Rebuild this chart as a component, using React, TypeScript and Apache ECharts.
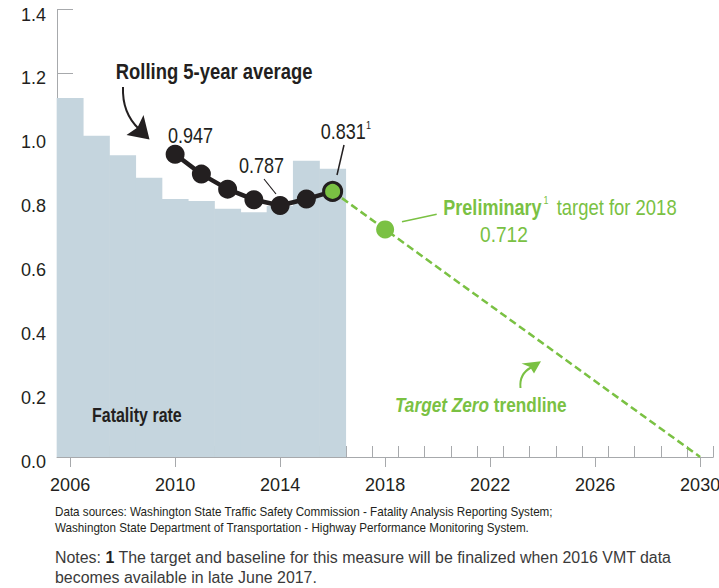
import React, { useEffect, useRef } from "react";
import * as echarts from "echarts";

// ---- data ----
const years = [2006, 2007, 2008, 2009, 2010, 2011, 2012, 2013, 2014, 2015, 2016];
const fatalityRate = [1.123, 1.005, 0.944, 0.874, 0.807, 0.801, 0.777, 0.766, 0.785, 0.927, 0.902];
const rollingYears = [2010, 2011, 2012, 2013, 2014, 2015, 2016];
const rollingAvg = [0.947, 0.885, 0.838, 0.805, 0.787, 0.807, 0.831];
const trendYears = [2016, 2018, 2030];
const trendValues = [0.831, 0.712, 0];
const xLabelYears = [2006, 2010, 2014, 2018, 2022, 2026, 2030];
const yearBoundaries = [
  2005.5, 2006.5, 2007.5, 2008.5, 2009.5, 2010.5, 2011.5, 2012.5, 2013.5, 2014.5, 2015.5, 2016.5,
  2017.5, 2018.5, 2019.5, 2020.5, 2021.5, 2022.5, 2023.5, 2024.5, 2025.5, 2026.5, 2027.5, 2028.5,
  2029.5, 2030.5,
];

const DARK = "#231f20";
const GREEN = "#7ac143";
const BAR = "#c5d5de";
const AXIS = "#a7a9ac";
const FONT = "'Liberation Sans', Arial, sans-serif";
const SQ = 0.82;

function txt(x: number, y: number, text: string, opts: any = {}) {
  const { size = 22, weight = "normal", fill = DARK, sx = SQ, style = "normal", rich } = opts;
  return {
    type: "text",
    x,
    y,
    scaleX: sx,
    z: 100,
    style: {
      text,
      fill,
      fontSize: size,
      fontFamily: FONT,
      fontWeight: weight,
      fontStyle: style,
      align: "left",
      verticalAlign: "middle",
      textAlign: "left",
      textVerticalAlign: "middle",
      rich,
    },
  };
}

export default function App() {
  const ref = useRef<HTMLDivElement>(null);
  useEffect(() => {
    if (!ref.current) return;
    const chart = echarts.init(ref.current, null, { renderer: "svg" });
    const barData = years.map((y, i) => [y, fatalityRate[i]]);
    const rollData: any[] = rollingYears.map((y, i) => [y, rollingAvg[i]]);
    const last = rollData.length - 1;
    rollData[last] = {
      value: rollData[last],
      itemStyle: { color: GREEN, borderColor: DARK, borderWidth: 3 },
      symbolSize: 18,
    };
    const trendData: any[] = trendYears.map((y, i) => [y, trendValues[i]]);
    trendData[1] = { value: trendData[1], symbol: "circle", symbolSize: 18, itemStyle: { color: GREEN } };

    const option: any = {
      animation: false,
      backgroundColor: "#ffffff",
      grid: { left: 57, right: 5.75, top: 9.5, bottom: 131, containLabel: false, outerBoundsMode: "none" },
      xAxis: [
        {
          type: "value",
          min: 2005.5,
          max: 2030.5,
          position: "bottom",
          axisLine: { show: true, lineStyle: { color: AXIS, width: 1 } },
          axisTick: { show: true, inside: true, length: 11, customValues: yearBoundaries, lineStyle: { color: AXIS } },
          axisLabel: { show: false },
          splitLine: { show: false },
        },
        {
          type: "value",
          min: 2005.5,
          max: 2030.5,
          position: "bottom",
          axisLine: { show: false },
          axisTick: { show: true, inside: false, length: 10, customValues: xLabelYears, lineStyle: { color: AXIS } },
          axisLabel: {
            show: true,
            customValues: xLabelYears,
            margin: 19,
            color: DARK,
            fontSize: 18,
            fontFamily: FONT,
            formatter: (v: number) => String(v),
          },
          splitLine: { show: false },
        },
      ],
      yAxis: {
        type: "value",
        min: 0,
        max: 1.4,
        interval: 0.2,
        axisLine: { show: true, lineStyle: { color: AXIS, width: 1 } },
        axisTick: { show: true, inside: true, length: 16, lineStyle: { color: AXIS } },
        axisLabel: {
          color: DARK,
          fontSize: 18,
          fontFamily: FONT,
          margin: 11,
          verticalAlign: "top",
          lineHeight: 10,
          formatter: (v: number) => v.toFixed(1),
        },
        splitLine: { show: false },
      },
      series: [
        {
          type: "bar",
          xAxisIndex: 0,
          data: barData,
          barWidth: 26.9,
          itemStyle: { color: BAR },
          z: 1,
        },
        {
          type: "line",
          xAxisIndex: 0,
          data: trendData,
          symbol: "none",
          lineStyle: { color: GREEN, width: 2.5, type: [7.5, 4] },
          z: 3,
        },
        {
          type: "line",
          xAxisIndex: 0,
          data: rollData,
          symbol: "circle",
          symbolSize: 19,
          itemStyle: { color: DARK },
          lineStyle: { color: DARK, width: 4.5 },
          z: 4,
        },
      ],
      graphic: [
        txt(115.7, 71, "Rolling 5-year average", { size: 22.5, weight: "bold" }),
        txt(168, 135, rollingAvg[0].toFixed(3), {}),
        txt(239, 165, rollingAvg[4].toFixed(3), {}),
        txt(320.7, 131, rollingAvg[6].toFixed(3), {}),
        txt(366, 125, "1", { size: 11 }),
        txt(443.3, 207, "Preliminary", { size: 22, weight: "bold", fill: GREEN }),
        txt(543.5, 200.5, "1", { size: 11, fill: GREEN }),
        txt(556.7, 207, "target for " + trendYears[1], { size: 22.5, fill: GREEN }),
        txt(480, 234, trendValues[1].toFixed(3), { size: 22, fill: GREEN, sx: 0.87 }),
        txt(395, 405, "{i|Target Zero} {b|trendline}", {
          size: 21,
          weight: "bold",
          fill: GREEN,
          rich: {
            i: { fontSize: 21, fontFamily: FONT, fontWeight: "bold", fontStyle: "italic", fill: GREEN, color: GREEN },
            b: { fontSize: 21, fontFamily: FONT, fontWeight: "bold", fill: GREEN, color: GREEN },
          },
        }),
        txt(92, 415, "Fatality rate", { size: 19.5, weight: "bold" }),
        txt(55, 511.5, "Data sources: Washington State Traffic Safety Commission - Fatality Analysis Reporting System;", {
          size: 13,
          sx: 0.897,
        }),
        txt(55, 528, "Washington State Department of Transportation - Highway Performance Monitoring System.", {
          size: 13,
          sx: 0.897,
        }),
        txt(
          55,
          557,
          "{a|Notes: }{b|1}{a| The target and baseline for this measure will be finalized when 2016 VMT data}",
          {
            size: 16,
            sx: 0.995,
            fill: "#3a3a3a",
            rich: {
              a: { fontSize: 16, fontFamily: FONT, fill: "#3a3a3a", color: "#3a3a3a" },
              b: { fontSize: 16, fontFamily: FONT, fontWeight: "bold", fill: DARK, color: DARK },
            },
          }
        ),
        txt(55, 577, "becomes available in late June 2017.", { size: 16, sx: 0.995, fill: "#3a3a3a" }),
        // leader lines
        { type: "line", z: 100, shape: { x1: 264, y1: 179, x2: 276, y2: 194 }, style: { stroke: DARK, lineWidth: 1.2 } },
        { type: "line", z: 100, shape: { x1: 344, y1: 145, x2: 337, y2: 175 }, style: { stroke: DARK, lineWidth: 1.5 } },
        { type: "line", z: 100, shape: { x1: 402, y1: 221.7, x2: 436.7, y2: 214.3 }, style: { stroke: GREEN, lineWidth: 1.5 } },
        // rolling arrow
        {
          type: "bezierCurve",
          z: 100,
          shape: { x1: 123, y1: 87, cpx1: 122, cpy1: 113, x2: 139, y2: 129 },
          style: { stroke: DARK, lineWidth: 2, fill: "none" },
        },
        {
          type: "polygon",
          z: 100,
          shape: { points: [[126.5, 135], [149.5, 139.5], [143.5, 115], [137.5, 127.5]] },
          style: { fill: DARK },
        },
        // target zero arrow
        {
          type: "bezierCurve",
          z: 100,
          shape: { x1: 520.5, y1: 388, cpx1: 519, cpy1: 374, x2: 531, y2: 367.5 },
          style: { stroke: GREEN, lineWidth: 2, fill: "none" },
        },
        {
          type: "polygon",
          z: 100,
          shape: { points: [[521.5, 363.5], [541, 361.3], [534, 373.5], [530, 367]] },
          style: { fill: GREEN },
        },
      ],
    };
    chart.setOption(option);
    return () => chart.dispose();
  }, []);
  return (
    <div
      ref={ref}
      style={{ position: "fixed", left: 0, top: 0, width: 719, height: 588, background: "#fff" }}
    />
  );
}
